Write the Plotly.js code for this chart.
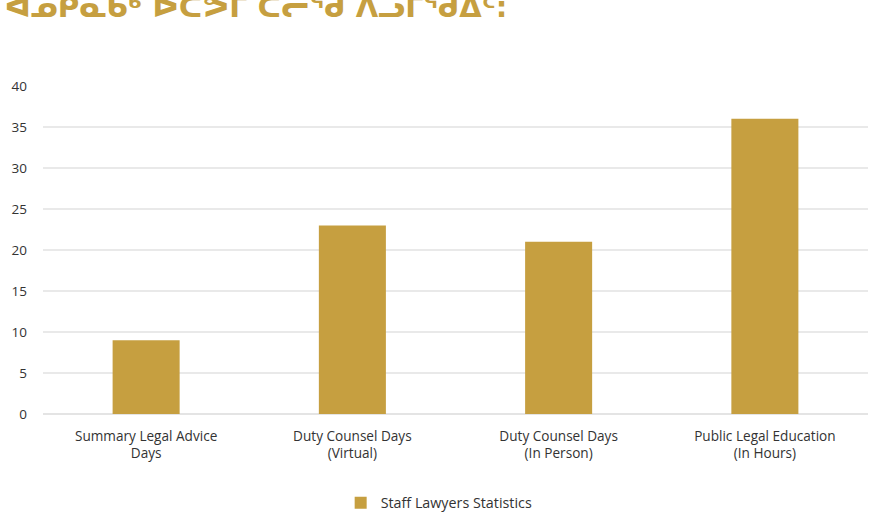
<!DOCTYPE html>
<html>
<head>
<meta charset="utf-8">
<script src="https://cdn.plot.ly/plotly-3.0.1.min.js"></script>
<style>
html,body{margin:0;padding:0;background:#fff;}
#chart{width:889px;height:512px;}
</style>
</head>
<body>
<div id="chart"></div>
<script>
var chartTitle = "ᐊᓄᑭᓇᑲᒃ ᐅᑕᕗᒥ ᑕᓕᖁ ᐱᓗᒥᖁᐃᑦ:";
var categories = ["Summary Legal Advice<br>Days", "Duty Counsel Days<br>(Virtual)", "Duty Counsel Days<br>(In Person)", "Public Legal Education<br>(In Hours)"];
var seriesName = "Staff Lawyers Statistics";
var values = [9, 23, 21, 36];
var yTicks = [0, 5, 10, 15, 20, 25, 30, 35, 40];

var gold = "#c69f40";
var fontFam = "Open Sans, Lato, sans-serif";

var data = [{
  type: "bar",
  name: seriesName,
  x: categories,
  y: values,
  marker: {color: gold},
  width: 0.325,
  showlegend: true,
  hoverinfo: "x+y"
}];

var layout = {
  width: 889, height: 512,
  paper_bgcolor: "#fff", plot_bgcolor: "#fff",
  margin: {l: 43, r: 21, t: 86, b: 98, autoexpand: false},
  font: {family: fontFam, size: 14, color: "#333"},
  title: {
    text: chartTitle,
    font: {family: "DejaVu Sans", size: 29, color: gold, weight: "bold"},
    x: 0.005, xanchor: "left", xref: "container",
    y: 0.986, yanchor: "middle", yref: "container",
    automargin: false
  },
  xaxis: {
    type: "category",
    showgrid: false, zeroline: false, showline: false,
    ticks: "", tickangle: 0, automargin: false,
    tickfont: {family: fontFam, size: 13.6, color: "#333"},
    ticklabelstandoff: 12
  },
  yaxis: {
    range: [0, 40],
    tickvals: yTicks,
    ticktext: yTicks.map(String),
    automargin: false,
    showgrid: true, gridcolor: "#e9e9e9", gridwidth: 2.5,
    zeroline: true, zerolinecolor: "#e4e4e4", zerolinewidth: 2.5,
    showline: false, ticks: "",
    tickfont: {family: fontFam, size: 13.5, color: "#333"},
    ticklabelstandoff: 15
  },
  showlegend: true,
  legend: {
    orientation: "h",
    x: 0.494, xanchor: "center", xref: "container",
    y: 0.0176, yanchor: "middle", yref: "container",
    font: {family: fontFam, size: 14.3, color: "#333"}
  }
};

Plotly.newPlot("chart", data, layout, {displayModeBar: false, staticPlot: true});
</script>
</body>
</html>
